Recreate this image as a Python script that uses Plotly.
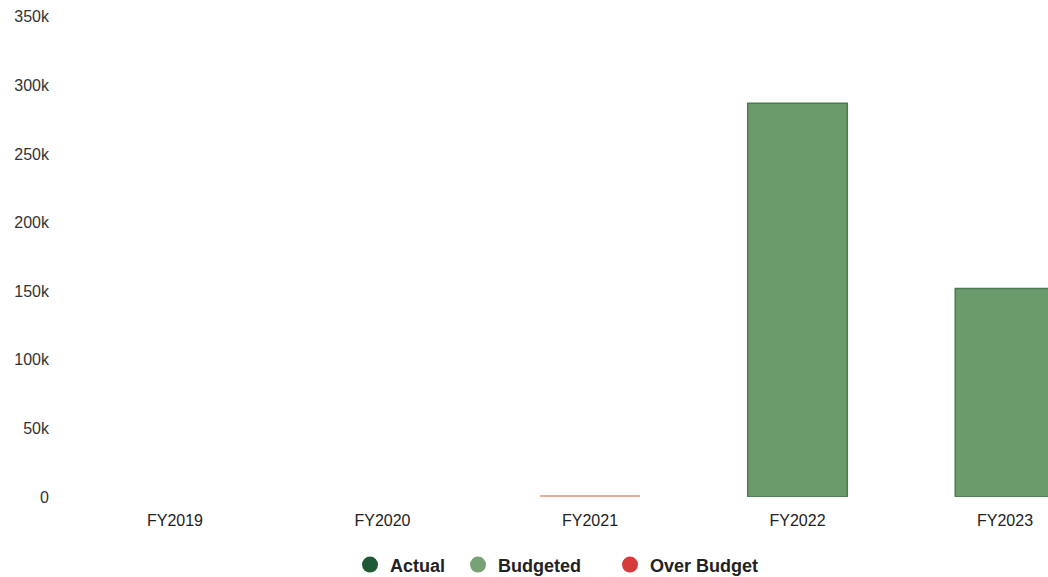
import plotly.graph_objects as go

# Fiscal-year spending figures
years = ["FY2019", "FY2020", "FY2021", "FY2022", "FY2023"]
budgeted = [None, None, None, 287000, 152000]
actual = [None, None, None, None, None]
over_budget = [None, None, 1200, None, None]

y_ticks = [0, 50000, 100000, 150000, 200000, 250000, 300000, 350000]
y_tick_text = ["0", "50k", "100k", "150k", "200k", "250k", "300k", "350k"]

ACTUAL_COLOR = "#1f5a34"
BUDGET_COLOR = "#6b9a6b"
BUDGET_EDGE = "#4c7b52"
OVER_COLOR = "#d63a3a"
FONT = "Liberation Sans, Arial, sans-serif"

fig = go.Figure()

fig.add_trace(go.Bar(
    x=years, y=budgeted, width=0.48,
    marker=dict(color=BUDGET_COLOR, line=dict(color=BUDGET_EDGE, width=1.5)),
    showlegend=False, name="Budgeted",
))
fig.add_trace(go.Bar(
    x=years, y=actual, width=0.48,
    marker=dict(color=ACTUAL_COLOR, line=dict(width=0)),
    showlegend=False, name="Actual",
))
fig.add_trace(go.Bar(
    x=years, y=over_budget, width=0.48,
    marker=dict(color="#e0ae94", line=dict(width=0)),
    showlegend=False, name="Over Budget",
))

# Circular legend entries, each in its own legend box
legend_items = [("Actual", ACTUAL_COLOR, "legend"),
                ("Budgeted", "#76a276", "legend2"),
                ("Over Budget", OVER_COLOR, "legend3")]
for name, color, lg in legend_items:
    fig.add_trace(go.Scatter(
        x=[None], y=[None], mode="markers", name=name, legend=lg,
        marker=dict(symbol="circle", size=16, color=color),
    ))

legend_style = dict(
    orientation="h", xanchor="left", yref="container", y=0.021, yanchor="middle",
    font=dict(size=18, color="#222222", family=FONT, weight="bold"),
    bgcolor="rgba(0,0,0,0)",
)

fig.update_layout(
    width=1048, height=577,
    margin=dict(l=55, r=0, t=14, b=80, autoexpand=False),
    paper_bgcolor="white", plot_bgcolor="white",
    barmode="overlay",
    font=dict(family=FONT, size=16, color="#333333"),
    xaxis=dict(
        range=[-0.578, 4.207], showgrid=False, zeroline=False, showline=False,
        tickfont=dict(size=16, color="#222222"), ticks="", ticklabelstandoff=12,
    ),
    yaxis=dict(
        range=[0, 352000], tickvals=y_ticks, ticktext=y_tick_text,
        showgrid=False, zeroline=False, showline=False,
        tickfont=dict(size=16, color="#333333"), ticklabelstandoff=5,
    ),
    legend=dict(x=(350 - 55) / 993, **legend_style),
    legend2=dict(x=(458 - 55) / 993, **legend_style),
    legend3=dict(x=(610 - 55) / 993, **legend_style),
)

fig.write_html("out.html")
